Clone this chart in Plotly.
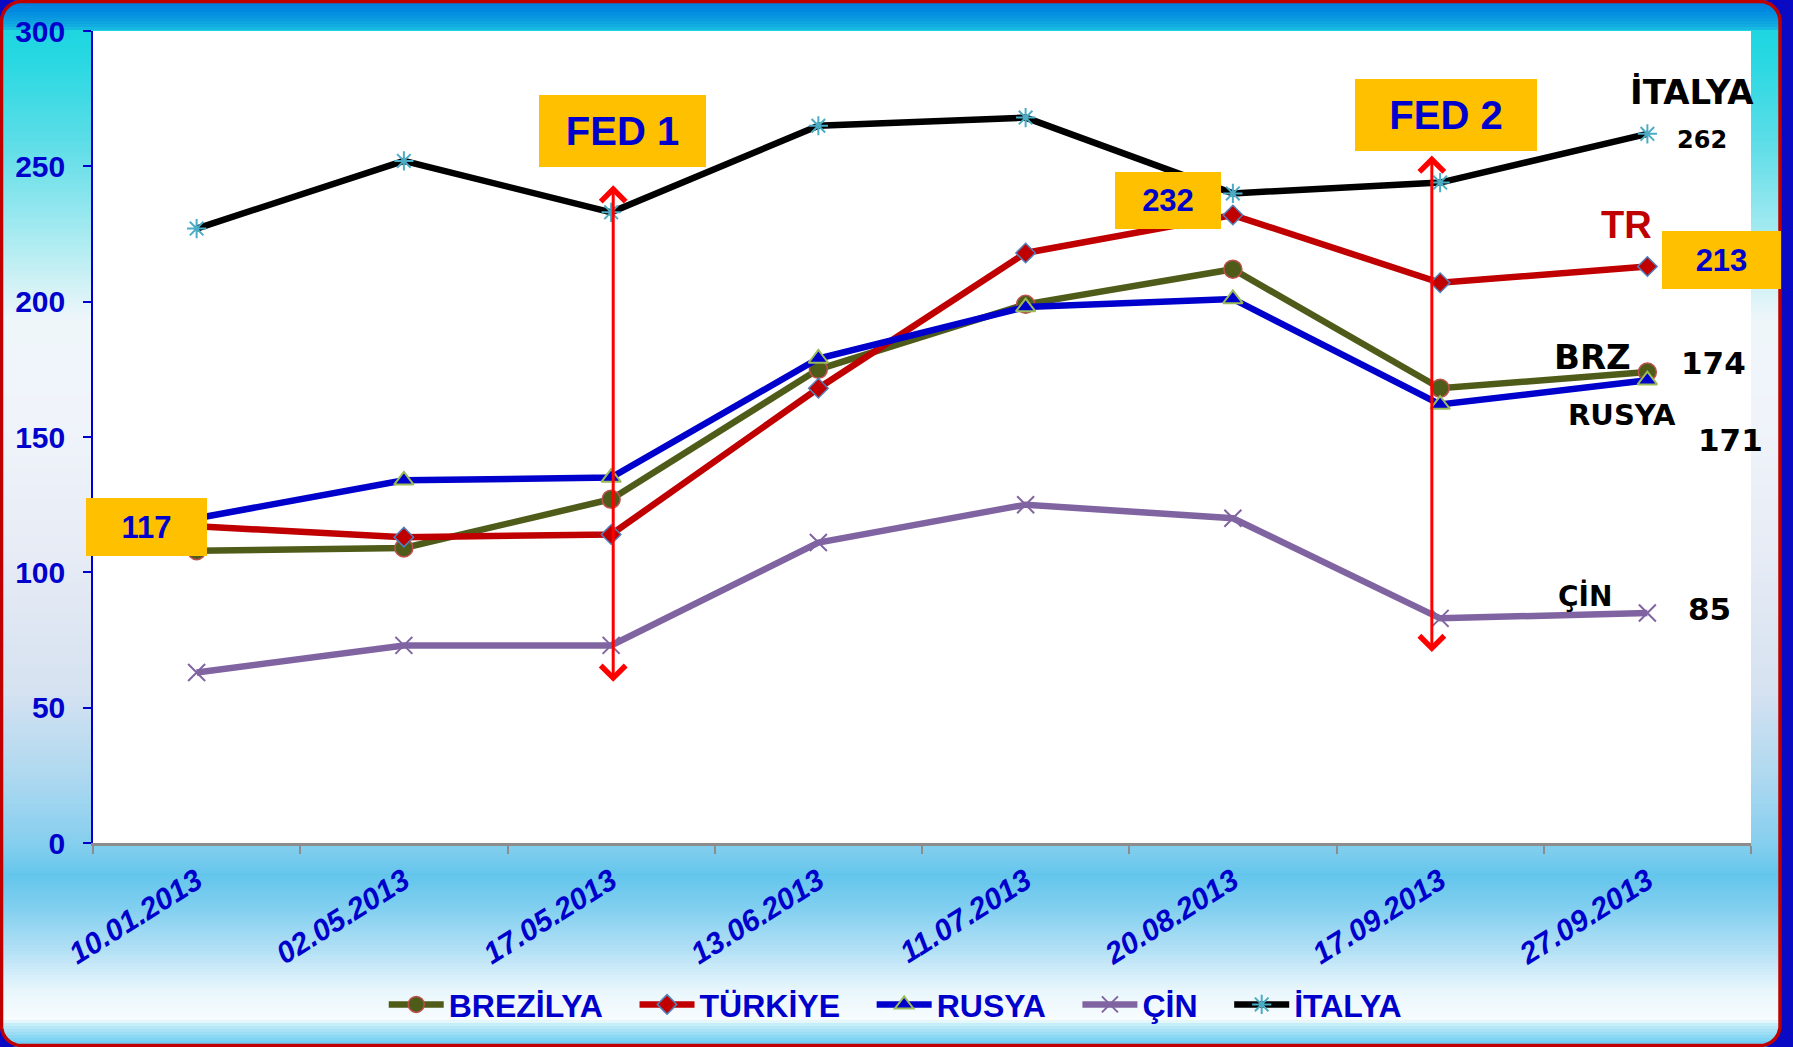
import math
import plotly.graph_objects as go

# ---------------- data ----------------
dates = ["10.01.2013", "02.05.2013", "17.05.2013", "13.06.2013",
         "11.07.2013", "20.08.2013", "17.09.2013", "27.09.2013"]
brezilya = [108, 109, 127, 175, 199, 212, 168, 174]
turkiye = [117, 113, 114, 168, 218, 232, 207, 213]
rusya = [120, 134, 135, 179, 198, 201, 162, 171]
cin = [63, 73, 73, 111, 125, 120, 83, 85]
italya = [227, 252, 233, 265, 268, 240, 244, 262]
series_names = ["BREZİLYA", "TÜRKİYE", "RUSYA", "ÇİN", "İTALYA"]
y_ticks = [0, 50, 100, 150, 200, 250, 300]
fed_labels = ["FED 1", "FED 2"]

# ---------------- geometry ----------------
W, H = 1793, 1047
L, R, T, B = 93, 42, 31, 204
PW, PH = W - L - R, H - T - B

ARIAL = "Liberation Sans, Arial"
DEJAVU = "DejaVu Sans"
BLUE = "#0000CC"


def px(xp, yp):
    return (xp - L) / PW, 1 - (yp - T) / PH


series = [brezilya, turkiye, rusya, cin, italya]
styles = [
    dict(line=dict(color="#4E5B19", width=6.5),
         marker=dict(symbol="circle", size=18, color="#4E5B19",
                     line=dict(color="#C0504D", width=1.5))),
    dict(line=dict(color="#C00000", width=6.5),
         marker=dict(symbol="diamond", size=15, color="#C00000",
                     line=dict(color="#4F81BD", width=1.5))),
    dict(line=dict(color="#0000CC", width=6.5),
         marker=dict(symbol="triangle-up", size=17, color="#0000CC",
                     line=dict(color="#9BBB59", width=2))),
    dict(line=dict(color="#8064A2", width=6.5),
         marker=dict(symbol="x-thin-open", size=17, color="#8064A2",
                     line=dict(color="#8064A2", width=2))),
    dict(line=dict(color="#000000", width=6.5),
         marker=dict(symbol="asterisk-open", size=16, color="#4BACC6",
                     line=dict(color="#4BACC6", width=2))),
]

fig = go.Figure()
for name, vals, st in zip(series_names, series, styles):
    fig.add_trace(go.Scatter(x=dates, y=vals, name=name + "\u00a0\u00a0\u00a0",
                             mode="lines+markers", line=st["line"],
                             marker=st["marker"], cliponaxis=False))

# ---------------- background shapes ----------------
stops = [
    (0, "#0078DC"), (10, "#0088E0"), (20, "#0C9CE0"), (28, "#14B4E0"),
    (31, "#1ED6E0"), (60, "#28D8E2"), (150, "#62DEE8"), (250, "#B4EDF2"),
    (320, "#EEF6FA"), (420, "#F0F4FA"), (560, "#E6EBF5"), (690, "#D6E2F1"),
    (780, "#ACD8F0"), (845, "#84CEEE"), (875, "#64C6EC"), (905, "#7ECEEF"),
    (950, "#B2E0F5"), (990, "#E8F6FC"), (1020, "#F8FCFE"), (1024, "#C8EEFA"),
    (1034, "#98DCF5"), (1047, "#5CC6F0"),
]


def hex2rgb(h):
    h = h.lstrip("#")
    return [int(h[i:i + 2], 16) for i in (0, 2, 4)]


def col_at(y):
    for (y0, c0), (y1, c1) in zip(stops[:-1], stops[1:]):
        if y0 <= y <= y1:
            t = (y - y0) / (y1 - y0) if y1 > y0 else 0
            a, b = hex2rgb(c0), hex2rgb(c1)
            return "rgb(%d,%d,%d)" % tuple(round(a[i] + (b[i] - a[i]) * t) for i in range(3))
    return stops[-1][1]


shapes = []
X0, Y0, X1, Y1, RAD = 1.5, 1.5, 1780, 1045.5, 20
step = 3
y = 0
while y < H:
    xa, ya = px(X0, y)
    xb, yb = px(X1, min(y + step + 1, H))
    shapes.append(dict(type="rect", xref="paper", yref="paper", x0=xa, x1=xb,
                       y0=yb, y1=ya, fillcolor=col_at(y + step / 2),
                       line=dict(width=0), layer="below"))
    y += step
# white plot area
shapes.append(dict(type="rect", xref="paper", yref="paper", x0=0, x1=1, y0=0, y1=1,
                   fillcolor="white", line=dict(width=0), layer="below"))

DARK = "#0A0AC4"


def arc_pts(cx, cy, a0, a1, n=16):
    pts = []
    for i in range(n + 1):
        a = math.radians(a0 + (a1 - a0) * i / n)
        pts.append((cx + RAD * math.cos(a), cy - RAD * math.sin(a)))
    return pts


def path_from(pts, close=True):
    s = ""
    for i, (a, b) in enumerate(pts):
        xp, yp = px(a, b)
        s += ("M" if i == 0 else "L") + "%.6f,%.6f" % (xp, yp)
    return s + ("Z" if close else "")


corners = [
    ((X0 - 4, Y0 - 4), arc_pts(X0 + RAD, Y0 + RAD, 90, 180)),
    ((X1 + 4, Y0 - 4), arc_pts(X1 - RAD, Y0 + RAD, 90, 0)),
    ((X1 + 4, Y1 + 4), arc_pts(X1 - RAD, Y1 - RAD, 0, -90)),
    ((X0 - 4, Y1 + 4), arc_pts(X0 + RAD, Y1 - RAD, -90, -180)),
]
for corner, pts in corners:
    shapes.append(dict(type="path", xref="paper", yref="paper",
                       path=path_from([corner] + pts), fillcolor=DARK,
                       line=dict(width=0), layer="below"))
border = (arc_pts(X0 + RAD, Y0 + RAD, 180, 90) + arc_pts(X1 - RAD, Y0 + RAD, 90, 0)
          + arc_pts(X1 - RAD, Y1 - RAD, 0, -90) + arc_pts(X0 + RAD, Y1 - RAD, -90, -180))
shapes.append(dict(type="path", xref="paper", yref="paper", path=path_from(border),
                   line=dict(color="#C00000", width=3.5), layer="below"))

# ---------------- annotations ----------------
ann = []


def box(text, x, y, w, h, size):
    ann.append(dict(text="<b>%s</b>" % text, x=x, y=y, xref="x", yref="y",
                    showarrow=False, width=w, height=h, bgcolor="#FFC000",
                    borderpad=0, borderwidth=0, align="center", valign="middle",
                    font=dict(family=ARIAL, size=size, color=BLUE)))


def label(text, x, y, size, color="black", family=DEJAVU):
    ann.append(dict(text="<b>%s</b>" % text, x=x, y=y, xref="x", yref="y",
                    showarrow=False, font=dict(family=family, size=size, color=color)))


def arrow(x, ytop, ybot):
    ann.append(dict(text="", x=x, y=ytop, ax=x, ay=ybot, xref="x", yref="y",
                    axref="x", ayref="y", showarrow=True, arrowhead=4,
                    startarrowhead=4, arrowside="end+start", arrowsize=1.6,
                    startarrowsize=1.6, arrowwidth=3, arrowcolor="#FF0000",
                    standoff=0, startstandoff=0))


arrow(2.01, 243, 59)
arrow(5.96, 254, 70)
box(fed_labels[0], 2.055, 262.9, 167, 72, 40)
box(fed_labels[1], 6.03, 268.8, 182, 72, 40)
box(turkiye[5], 4.688, 237.4, 106, 57, 31)
box(turkiye[0], -0.243, 116.9, 121, 58, 31)
box(turkiye[7], 7.36, 215.3, 119, 58, 31)

label("İTALYA", 7.217, 277.3, 34)
label(italya[7], 7.265, 259.6, 24)
label("TR", 6.899, 228.2, 38, color="#C00000", family=ARIAL)
label("BRZ", 6.735, 179.5, 34)
label(brezilya[7], 7.319, 177.3, 31)
label("RUSYA", 6.879, 158.1, 29)
label(rusya[7], 7.401, 148.8, 31)
label("ÇİN", 6.701, 91.2, 28)
label(cin[7], 7.299, 86.4, 31)

fig.update_layout(
    width=W, height=H, margin=dict(l=L, r=R, t=T, b=B, pad=0),
    paper_bgcolor=DARK, plot_bgcolor="white",
    shapes=shapes, annotations=ann, showlegend=True,
    legend=dict(orientation="h", x=0.492, xanchor="center", y=-0.199,
                yanchor="middle", bgcolor="rgba(0,0,0,0)", itemwidth=55,
                font=dict(family=ARIAL, size=32, color=BLUE, weight="bold")),
    xaxis=dict(type="category", range=[-0.5, 7.5], tickson="boundaries",
               ticks="outside", ticklen=8, tickwidth=2, tickcolor="#8C8C8C",
               showline=True, linecolor="#8C8C8C", linewidth=2.5, showgrid=False,
               zeroline=False, tickangle=-32, ticklabelstandoff=6,
               tickfont=dict(family=ARIAL, size=30, color=BLUE, weight="bold",
                             style="italic")),
    yaxis=dict(range=[0, 300], tickvals=y_ticks, ticks="outside", ticklen=8,
               tickwidth=1.5, tickcolor=BLUE, showline=True, linecolor=BLUE,
               linewidth=1.5, showgrid=False, zeroline=False, ticklabelstandoff=12,
               tickfont=dict(family=ARIAL, size=30, color=BLUE, weight="bold")),
)

fig.write_html("out.html", config={"displayModeBar": False},
               post_script="document.body.style.margin='0';document.body.style.overflow='hidden';")
